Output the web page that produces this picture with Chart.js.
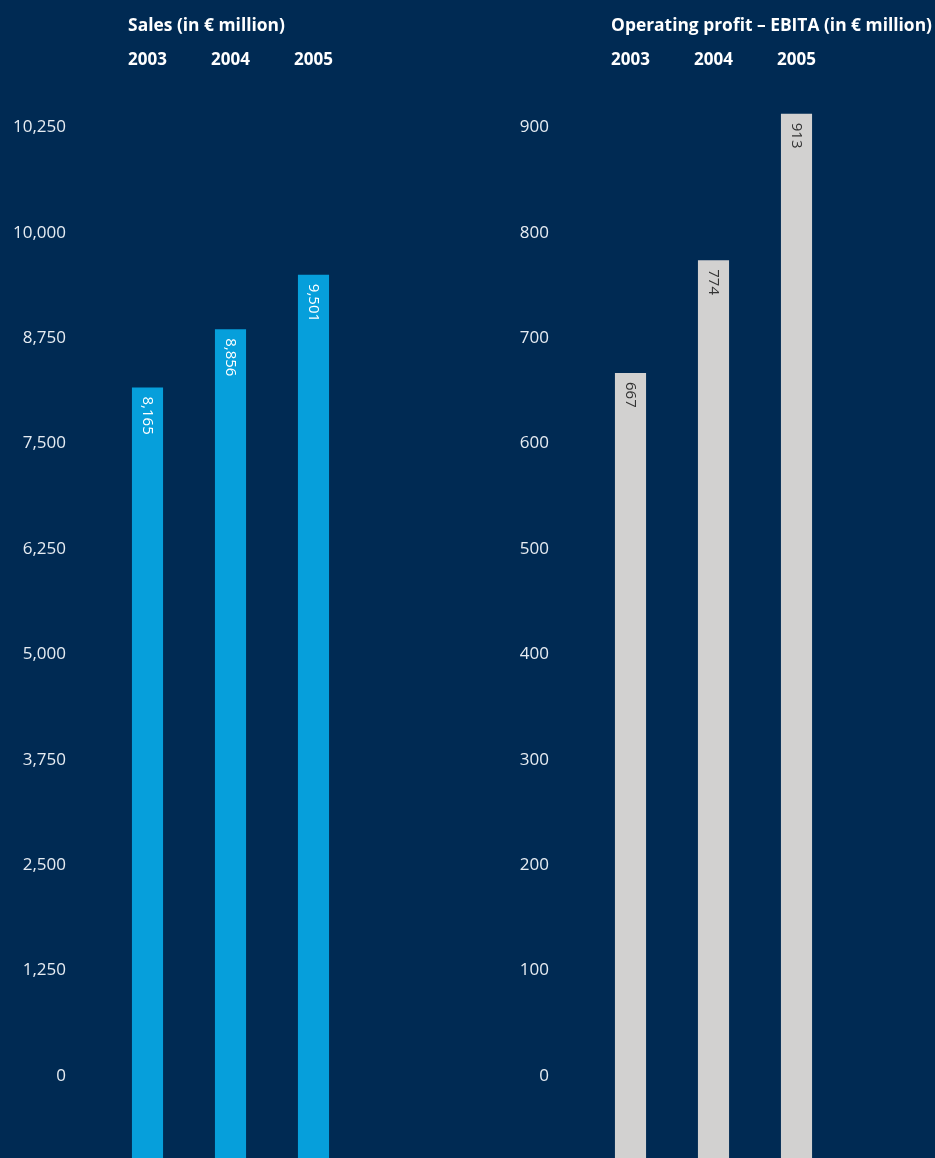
<!DOCTYPE html>
<html>
<head>
<meta charset="utf-8">
<script src="https://cdn.jsdelivr.net/npm/chart.js@4.4.0/dist/chart.umd.min.js"></script>
<style>
	html, body { margin: 0; padding: 0; background: #002a53; }
	body { width: 935px; height: 1158px; position: relative; overflow: hidden; }
	canvas { position: absolute; top: 0; display: block; }
	#salesChart { left: 0; }
	#ebitaChart { left: 483px; }
</style>
</head>
<body>
<canvas id="salesChart" width="452" height="1158"></canvas>
<canvas id="ebitaChart" width="452" height="1158"></canvas>
<script>
const years = ['2003', '2004', '2005'];

const salesValues = [8165, 8856, 9501];
const salesTicks = [0, 1250, 2500, 3750, 5000, 6250, 7500, 8750, 10000, 11250];
const salesTickLabels = ['0', '1,250', '2,500', '3,750', '5,000', '6,250', '7,500', '8,750', '10,000', '10,250'];

const ebitaValues = [667, 774, 913];
const ebitaTicks = [0, 100, 200, 300, 400, 500, 600, 700, 800, 900];
const ebitaTickLabels = ['0', '100', '200', '300', '400', '500', '600', '700', '800', '900'];

const fontFamily = '"Open Sans", Lato, sans-serif';

// titre a gauche, aligne sur le premier libelle d'annee
const panelTitle = {
	id: 'panelTitle',
	afterDraw(chart, args, opts) {
		const ctx = chart.ctx;
		const xScale = chart.scales.x;
		ctx.save();
		ctx.font = 'bold 17px ' + fontFamily;
		const w = ctx.measureText(years[0]).width;
		const x = xScale.getPixelForTick(0) - w / 2;
		ctx.font = 'bold 17.4px ' + fontFamily;
		ctx.fillStyle = '#ffffff';
		ctx.textAlign = 'left';
		ctx.textBaseline = 'middle';
		ctx.fillText(opts.text, x, 26);
		ctx.restore();
	}
};

// valeurs ecrites verticalement dans le haut des barres
const barValues = {
	id: 'barValues',
	afterDatasetsDraw(chart, args, opts) {
		const ctx = chart.ctx;
		const meta = chart.getDatasetMeta(0);
		const data = chart.data.datasets[0].data;
		ctx.save();
		ctx.font = '15px ' + fontFamily;
		ctx.fillStyle = opts.color;
		ctx.textAlign = 'left';
		ctx.textBaseline = 'middle';
		meta.data.forEach((bar, i) => {
			ctx.save();
			ctx.translate(bar.x, bar.y + 9);
			ctx.rotate(Math.PI / 2);
			ctx.fillText(data[i].toLocaleString('en-US'), 0, 0);
			ctx.restore();
		});
		ctx.restore();
	}
};

function makeChart(id, values, tickValues, tickLabels, yMin, yMax, barColor, valueColor, title) {
	return new Chart(document.getElementById(id).getContext('2d'), {
		type: 'bar',
		data: {
			labels: years,
			datasets: [{
				data: values,
				backgroundColor: barColor,
				borderWidth: 0,
				barPercentage: 0.75,
				categoryPercentage: 0.5,
				base: yMin
			}]
		},
		options: {
			responsive: false,
			animation: false,
			layout: { padding: { top: 0, right: 97, bottom: 0, left: 0 } },
			plugins: {
				legend: { display: false },
				tooltip: { enabled: false },
				panelTitle: { text: title },
				barValues: { color: valueColor }
			},
			scales: {
				x: {
					position: 'top',
					grid: { display: false, drawTicks: false },
					border: { display: false },
					ticks: {
						color: '#ffffff',
						font: { family: fontFamily, size: 17, weight: 'bold' },
						padding: 10
					},
					afterFit: s => { s.height = 80; }
				},
				y: {
					min: yMin,
					max: yMax,
					grid: { display: false, drawTicks: false },
					border: { display: false },
					afterBuildTicks: s => { s.ticks = tickValues.map(v => ({ value: v })); },
					ticks: {
						color: '#e6ecf2',
						font: { family: fontFamily, size: 17 },
						padding: 40,
						callback: (v, i) => tickLabels[i]
					},
					afterFit: s => {
						s.width = 106;
						s.paddingTop = 0;
						s.paddingBottom = 0;
					}
				}
			}
		},
		plugins: [panelTitle, barValues]
	});
}

makeChart('salesChart', salesValues, salesTicks, salesTickLabels, -972.5, 11812,
	'#069fdb', '#ffffff', 'Sales (in € million)');
makeChart('ebitaChart', ebitaValues, ebitaTicks, ebitaTickLabels, -77.8, 945,
	'#d2d1d0', '#333333', 'Operating profit – EBITA (in € million)');
</script>
</body>
</html>
